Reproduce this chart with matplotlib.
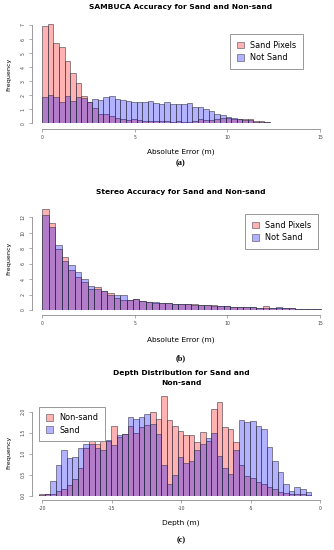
import numpy as np
import matplotlib
matplotlib.use('Agg')
import matplotlib.pyplot as plt
from matplotlib.patches import Patch

plt.rcParams['font.family'] = 'DejaVu Sans'
plt.rcParams['axes.unicode_minus'] = False

# ---- data (bar heights) ----
# (a) SAMBUCA absolute error, bins of 0.3 m starting at 0
a_start, a_width = 0.0, 0.3
a_sand = [6.95, 7.08, 5.70, 5.46, 4.46, 3.56, 2.85, 1.93, 1.55, 1.07,
          0.67, 0.67, 0.52, 0.36, 0.29, 0.21, 0.29, 0.21, 0.17, 0.17,
          0.14, 0.17, 0.14, 0.12, 0.14, 0.12, 0.10, 0.14, 0.29, 0.24,
          0.26, 0.33, 0.36, 0.40, 0.31, 0.33, 0.29, 0.29, 0.17, 0.14,
          0.07, 0.05, 0.04, 0.02, 0.0, 0.0, 0.0, 0.0, 0.0]
a_not = [1.90, 2.00, 1.90, 1.50, 1.92, 1.56, 1.85, 1.78, 1.52, 1.73,
         1.66, 1.85, 1.97, 1.76, 1.66, 1.61, 1.54, 1.54, 1.50, 1.59,
         1.43, 1.40, 1.52, 1.40, 1.35, 1.35, 1.47, 1.14, 1.16, 1.05,
         0.88, 0.67, 0.60, 0.48, 0.40, 0.33, 0.24, 0.20, 0.12, 0.10,
         0.07, 0.05, 0.03, 0.02, 0.01, 0.0, 0.0, 0.0, 0.0]

# (b) Stereo absolute error, bins of 0.35 m starting at 0
b_start, b_width = 0.0, 0.35
b_sand = [13.1, 11.2, 7.9, 6.82, 5.18, 4.23, 3.58, 2.72, 2.93, 2.5,
          2.16, 1.5, 1.3, 1.3, 1.38, 1.17, 1.1, 0.95, 0.9, 0.85,
          0.82, 0.75, 0.82, 0.72, 0.68, 0.62, 0.6, 0.55, 0.5, 0.45,
          0.42, 0.38, 0.35, 0.32, 0.55, 0.25, 0.28, 0.3, 0.2, 0.18,
          0.15, 0.12, 0.1]
b_not = [12.3, 10.8, 8.37, 6.3, 5.83, 4.96, 3.97, 3.1, 2.72, 2.5,
         1.94, 1.9, 1.9, 1.3, 1.38, 1.2, 1.0, 1.0, 0.9, 0.85,
         0.78, 0.75, 0.72, 0.7, 0.65, 0.6, 0.55, 0.55, 0.5, 0.45,
         0.4, 0.38, 0.35, 0.3, 0.3, 0.25, 0.45, 0.25, 0.2, 0.18,
         0.15, 0.1, 0.1]

# (c) depth distribution, bins of 0.4 m starting at -20.24
c_start, c_width = -20.24, 0.4
c_nonsand = [0.03, 0.04, 0.05, 0.12, 0.16, 0.25, 0.40, 0.65, 1.13, 1.38,
             1.22, 1.30, 1.31, 1.67, 1.40, 1.48, 1.66, 1.50, 1.63, 1.68,
             2.00, 1.82, 2.37, 1.80, 1.66, 1.55, 1.44, 1.44, 1.27, 1.52,
             1.30, 2.06, 2.22, 1.64, 1.59, 1.27, 0.73, 0.47, 0.41, 0.33,
             0.28, 0.21, 0.17, 0.10, 0.06, 0.04, 0.04, 0.03, 0.02, 0.0]
c_sand = [0.02, 0.03, 0.36, 0.73, 1.09, 0.89, 0.93, 1.14, 1.24, 1.22,
          1.13, 1.10, 1.32, 1.21, 1.44, 1.48, 1.87, 1.82, 1.88, 1.94,
          1.70, 1.48, 0.72, 0.29, 0.49, 0.93, 0.79, 0.83, 1.10, 1.22,
          1.37, 1.50, 0.95, 0.67, 0.51, 1.10, 1.80, 1.76, 1.79, 1.66,
          1.58, 1.17, 0.83, 0.57, 0.29, 0.12, 0.21, 0.17, 0.10, 0.0]

PINK = (1.0, 0.0, 0.0, 0.3)
BLUE = (0.0, 0.0, 1.0, 0.3)
EDGE = (0.2, 0.2, 0.25, 0.7)
AXC = '#8a8a8a'

W, H = 334, 550
fig = plt.figure(figsize=(W / 100, H / 100), dpi=100)


def place_axes(xd, xp, yd, yp, xlim, ylim):
    # build an axes whose data->pixel mapping matches the reference
    sx = (xp[1] - xp[0]) / (xd[1] - xd[0])
    sy = (yp[1] - yp[0]) / (yd[1] - yd[0])
    left = xp[0] + (xlim[0] - xd[0]) * sx
    right = xp[0] + (xlim[1] - xd[0]) * sx
    bottom = yp[0] + (ylim[0] - yd[0]) * sy
    top = yp[0] + (ylim[1] - yd[0]) * sy
    ax = fig.add_axes([left / W, 1 - bottom / H, (right - left) / W, (bottom - top) / H])
    ax.set_xlim(xlim)
    ax.set_ylim(ylim)
    return ax, left, bottom


def draw_hist(ax, start, width, vals, color):
    edges = start + width * np.arange(len(vals))
    ax.bar(edges, vals, width=width, align='edge', color=color,
           edgecolor=EDGE, linewidth=0.55)


def r_style(ax, left_px, bottom_px, spine_x, spine_y, xticks, yticks, xlab, ylab):
    ax.patch.set_visible(False)
    for s in ['top', 'right']:
        ax.spines[s].set_visible(False)
    ax.spines['left'].set_position(('outward', (left_px - spine_x) * 0.72))
    ax.spines['bottom'].set_position(('outward', (spine_y - bottom_px) * 0.72))
    ax.spines['left'].set_bounds(yticks[0], yticks[-1])
    ax.spines['bottom'].set_bounds(xticks[0], xticks[-1])
    for s in ['left', 'bottom']:
        ax.spines[s].set_color(AXC)
        ax.spines[s].set_linewidth(0.6)
    ax.set_xticks(xticks)
    ax.set_xticklabels(xlab)
    ax.set_yticks(yticks)
    ax.set_yticklabels(ylab, rotation=90, va='center')
    ax.tick_params(length=2.0, width=0.5, color=AXC, labelsize=3.3,
                   labelcolor='#444444', pad=2.5)


def legend(ax, labels, colors, x, y):
    handles = [Patch(facecolor=c, edgecolor=EDGE, linewidth=0.5) for c in colors]
    lg = ax.legend(handles, labels, loc='upper left', bbox_to_anchor=(x / W, 1 - y / H),
                   bbox_transform=fig.transFigure, borderaxespad=0, fontsize=5.9,
                   fancybox=False, framealpha=1, edgecolor='#888888',
                   handlelength=0.85, handleheight=0.85, handletextpad=0.8,
                   labelspacing=0.4, borderpad=0.8)
    lg.get_frame().set_linewidth(0.6)


def ftext(x, y, s, **kw):
    fig.text(x / W, 1 - y / H, s, ha='center', va='center', **kw)


TITLE = dict(fontsize=5.4, fontweight='bold')
XLAB = dict(fontsize=5.3)
PLAB = dict(fontsize=6.0, fontweight='bold', family='Liberation Serif')

# ---- (a) ----
ax, lp, bp = place_axes((0, 15), (42.3, 320), (0, 7), (123.3, 25.0), (0, 15.2), (0, 7.3))
draw_hist(ax, a_start, a_width, a_sand, PINK)
draw_hist(ax, a_start, a_width, a_not, BLUE)
r_style(ax, lp, bp, 32, 129, [0, 5, 10, 15], list(range(8)),
        ['0', '5', '10', '15'], [str(v) for v in range(8)])
legend(ax, ['Sand Pixels', 'Not Sand'], [PINK, BLUE], 230, 34.3)
ftext(181, 7, 'SAMBUCA Accuracy for Sand and Non-sand', **TITLE)
ftext(181, 151.7, 'Absolute Error (m)', **XLAB)
ftext(9, 74, 'Frequency', rotation=90, fontsize=4.6)
ftext(181, 163.5, '(a)', **PLAB)

# ---- (b) ----
ax, lp, bp = place_axes((0, 15), (42.3, 320), (0, 12), (310, 217.3), (0, 15.3), (0, 13.3))
draw_hist(ax, b_start, b_width, b_sand, PINK)
draw_hist(ax, b_start, b_width, b_not, BLUE)
r_style(ax, lp, bp, 32, 315, [0, 5, 10, 15], list(range(0, 13, 2)),
        ['0', '5', '10', '15'], [str(v) for v in range(0, 13, 2)])
legend(ax, ['Sand Pixels', 'Not Sand'], [PINK, BLUE], 245, 214.3)
ftext(181, 191.7, 'Stereo Accuracy for Sand and Non-sand', **TITLE)
ftext(181, 339.3, 'Absolute Error (m)', **XLAB)
ftext(9, 258, 'Frequency', rotation=90, fontsize=4.6)
ftext(181, 358.3, '(b)', **PLAB)

# ---- (c) ----
ax, lp, bp = place_axes((-20, 0), (42.3, 320), (0, 2), (495.7, 411.7), (-20.3, 0.2), (0, 2.45))
draw_hist(ax, c_start, c_width, c_nonsand, PINK)
draw_hist(ax, c_start, c_width, c_sand, BLUE)
r_style(ax, lp, bp, 32, 500, [-20, -15, -10, -5, 0], [0, 0.5, 1.0, 1.5, 2.0],
        ['-20', '-15', '-10', '-5', '0'], ['0.0', '0.5', '1.0', '1.5', '2.0'])
legend(ax, ['Non-sand', 'Sand'], [PINK, BLUE], 39.3, 406.7)
ftext(181, 373.3, 'Depth Distribution for Sand and', **TITLE)
ftext(181, 383.3, 'Non-sand', **TITLE)
ftext(181, 523, 'Depth (m)', **XLAB)
ftext(9, 452, 'Frequency', rotation=90, fontsize=4.6)
ftext(181, 540.5, '(c)', **PLAB)

fig.savefig('out.png', dpi=100)
